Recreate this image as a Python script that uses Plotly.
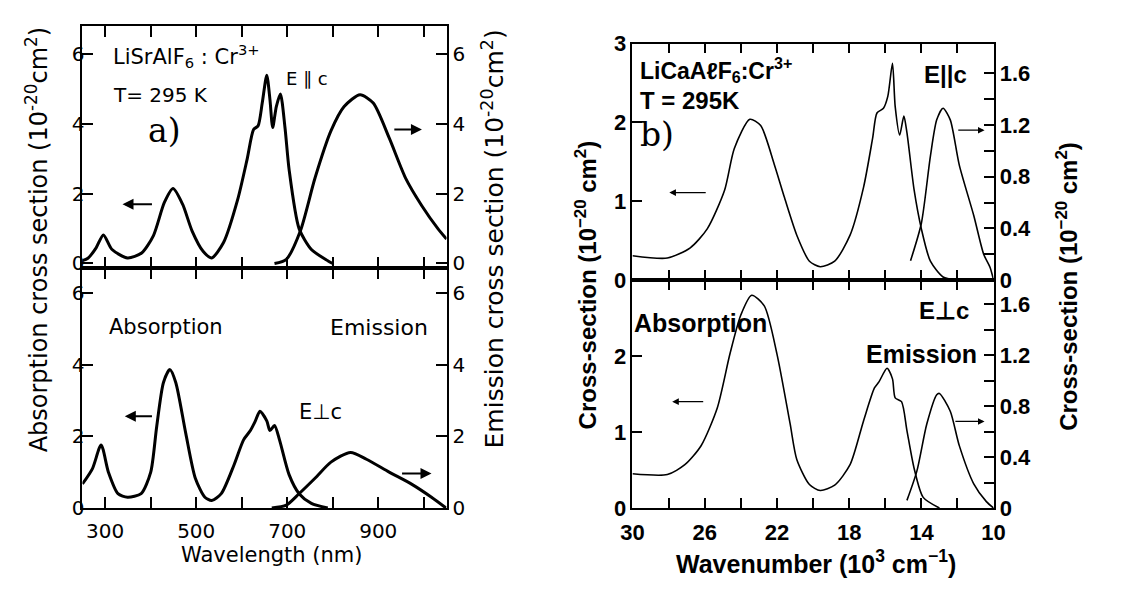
import plotly.graph_objects as go

# ---------------- Panel a: LiSrAlF6:Cr3+ (wavelength, nm) ----------------
a_par_abs_x = [250, 262, 280, 296, 315, 349, 380, 406, 430, 449, 470, 491, 515, 534, 560, 591, 612, 626, 636, 645, 655, 662, 668, 676, 685, 695, 704, 726, 753, 789, 800]
a_par_abs_y = [0.08, 0.15, 0.45, 0.82, 0.4, 0.16, 0.3, 0.8, 1.75, 2.15, 1.7, 0.93, 0.35, 0.16, 0.6, 1.83, 3.0, 3.84, 3.95, 4.6, 5.4, 4.7, 3.9, 4.5, 4.86, 3.9, 2.7, 1.0, 0.4, 0.08, 0.0]
a_par_em_x = [672, 698, 729, 761, 796, 825, 860, 889, 924, 960, 996, 1031, 1050]
a_par_em_y = [0.0, 0.12, 0.94, 2.45, 3.8, 4.5, 4.84, 4.6, 3.6, 2.45, 1.65, 1.0, 0.7]

a_perp_abs_x = [250, 272, 291, 307, 328, 349, 379, 400, 413, 428, 442, 455, 477, 498, 519, 534, 555, 583, 604, 619, 630, 640, 655, 662, 672, 683, 704, 726, 753, 789]
a_perp_abs_y = [0.67, 1.1, 1.76, 1.0, 0.4, 0.3, 0.4, 1.0, 2.26, 3.5, 3.86, 3.5, 2.08, 0.83, 0.3, 0.21, 0.4, 1.2, 1.9, 2.16, 2.43, 2.7, 2.43, 2.16, 2.3, 1.9, 0.93, 0.4, 0.13, 0.0]
a_perp_em_x = [666, 698, 726, 761, 796, 839, 874, 924, 974, 1017, 1049]
a_perp_em_y = [0.0, 0.08, 0.4, 0.83, 1.28, 1.55, 1.36, 1.0, 0.66, 0.3, 0.0]

a_xticks = [300, 400, 500, 600, 700, 800, 900, 1000]
a_xticktext = ["300", "", "500", "", "700", "", "900", ""]
a_yticks = [0, 2, 4, 6]

# ---------------- Panel b: LiCaAlF6:Cr3+ (wavenumber, 10^3 cm^-1) ----------------
b_par_abs_x = [30.0, 28.07, 26.8, 25.86, 24.9, 24.36, 23.5, 22.9, 22.15, 21.6, 20.9, 20.2, 19.6, 18.8, 17.95, 17.2, 16.7, 16.46, 16.1, 15.86, 15.6, 15.45, 15.2, 14.97, 14.8, 14.4, 14.0, 13.5, 12.8, 12.1]
b_par_abs_y = [0.31, 0.28, 0.41, 0.65, 1.14, 1.67, 2.04, 1.96, 1.47, 1.06, 0.57, 0.24, 0.17, 0.24, 0.57, 1.18, 1.8, 2.12, 2.18, 2.33, 2.75, 2.2, 1.84, 2.08, 1.87, 1.14, 0.65, 0.24, 0.04, 0.0]
b_par_em_x = [14.6, 14.0, 13.5, 13.15, 12.8, 12.4, 11.9, 11.1, 10.55, 10.2, 10.0]
b_par_em_y = [0.15, 0.44, 0.96, 1.24, 1.33, 1.24, 0.89, 0.5, 0.2, 0.1, 0.0]

b_perp_abs_x = [30.0, 28.07, 27.1, 26.2, 25.3, 24.6, 24.0, 23.4, 22.7, 22.0, 21.27, 20.9, 20.2, 19.6, 18.8, 17.95, 17.2, 16.6, 16.35, 15.9, 15.6, 15.45, 15.1, 14.8, 14.4, 13.9, 13.0]
b_perp_abs_y = [0.45, 0.44, 0.57, 0.82, 1.32, 2.03, 2.54, 2.8, 2.66, 2.03, 1.11, 0.64, 0.31, 0.23, 0.3, 0.57, 1.15, 1.58, 1.66, 1.84, 1.7, 1.45, 1.4, 1.02, 0.52, 0.14, 0.0]
b_perp_em_x = [14.8, 14.25, 13.7, 13.15, 13.0, 12.4, 11.9, 11.1, 10.4, 10.0]
b_perp_em_y = [0.06, 0.29, 0.66, 0.89, 0.9, 0.76, 0.49, 0.19, 0.05, 0.0]

b_xticks = [30, 28, 26, 24, 22, 20, 18, 16, 14, 12, 10]
b_xticktext = ["30", "", "26", "", "22", "", "18", "", "14", "", "10"]
b_lyticks = [0, 1, 2, 3]
b_ryticks = [0, 0.2, 0.4, 0.6, 0.8, 1.0, 1.2, 1.4, 1.6]
b_ryticktext = ["0", "", "0.4", "", "0.8", "", "1.2", "", "1.6"]

# ---------------- figure ----------------
W, H = 1125, 589
FA = "DejaVu Sans"
FB = "Liberation Sans"
FS = "DejaVu Serif"

fig = go.Figure()

def line(x, y, xa, ya, w):
    fig.add_trace(go.Scatter(x=x, y=y, xaxis=xa, yaxis=ya, mode="lines",
                             line=dict(color="black", width=w, shape="spline", smoothing=0.7),
                             showlegend=False, hoverinfo="skip"))

line(a_par_abs_x, a_par_abs_y, "x", "y", 3)
line(a_par_em_x, a_par_em_y, "x", "y2", 3)
line(a_perp_abs_x, a_perp_abs_y, "x2", "y3", 3)
line(a_perp_em_x, a_perp_em_y, "x2", "y4", 3)
line(b_par_abs_x, b_par_abs_y, "x3", "y5", 1.6)
line(b_par_em_x, b_par_em_y, "x3", "y6", 1.6)
line(b_perp_abs_x, b_perp_abs_y, "x4", "y7", 1.6)
line(b_perp_em_x, b_perp_em_y, "x4", "y8", 1.6)

def px(x0, x1):
    return [x0 / W, x1 / W]

def py(top, bot):
    return [(H - bot) / H, (H - top) / H]

a_dom_x = px(72, 444)
a_top_y = py(15, 267)
a_bot_y = py(267, 518)
b_dom_x = px(634, 1003)
b_top_y = py(33, 280)
b_bot_y = py(280, 518)

a_tick = dict(family=FA, size=20, color="black")
b_tick = dict(family=FB, size=22, color="black", weight="bold")

common = dict(showline=True, linecolor="black", linewidth=2, ticks="inside",
              tickcolor="black", tickwidth=2, ticklen=11, showgrid=False, zeroline=False)
bcommon = {**common, "linewidth": 1.5, "tickwidth": 1.5, "ticklen": 10}

fig.update_layout(
    width=W, height=H, margin=dict(l=0, r=0, t=0, b=0),
    paper_bgcolor="white", plot_bgcolor="white",
    # panel a
    xaxis=dict(domain=a_dom_x, anchor="y", range=[250, 1050], tickvals=a_xticks,
               showticklabels=False, mirror="ticks", **common),
    yaxis=dict(domain=a_top_y, anchor="x", range=[-0.12, 6.8], tickvals=a_yticks,
               tickfont=a_tick, ticklabelstandoff=-8, **common),
    yaxis2=dict(overlaying="y", anchor="x", side="right", range=[-0.12, 6.8],
                tickvals=a_yticks, tickfont=a_tick, **common),
    xaxis2=dict(domain=a_dom_x, anchor="y3", range=[250, 1050], tickvals=a_xticks,
                ticktext=a_xticktext, tickfont=a_tick, mirror="ticks",
                ticklabelstandoff=4, **common),
    yaxis3=dict(domain=a_bot_y, anchor="x2", range=[0, 6.7], tickvals=a_yticks,
                tickfont=a_tick, ticklabelstandoff=-8, **common),
    yaxis4=dict(overlaying="y3", anchor="x2", side="right", range=[0, 6.7],
                tickvals=a_yticks, tickfont=a_tick, **common),
    # panel b
    xaxis3=dict(domain=b_dom_x, anchor="y5", range=[30, 10], tickvals=b_xticks,
                showticklabels=False, mirror="ticks", **bcommon),
    yaxis5=dict(domain=b_top_y, anchor="x3", range=[0, 3], tickvals=b_lyticks,
                tickfont=b_tick, **bcommon),
    yaxis6=dict(overlaying="y5", anchor="x3", side="right", range=[0, 1.83],
                tickvals=b_ryticks, ticktext=b_ryticktext, tickfont=b_tick, **bcommon),
    xaxis4=dict(domain=b_dom_x, anchor="y7", range=[30, 10], tickvals=b_xticks,
                ticktext=b_xticktext, tickfont=b_tick, mirror="ticks",
                ticklabelstandoff=4, **bcommon),
    yaxis7=dict(domain=b_bot_y, anchor="x4", range=[0, 3], tickvals=[0, 1, 2],
                tickfont=b_tick, **bcommon),
    yaxis8=dict(overlaying="y7", anchor="x4", side="right", range=[0, 1.79],
                tickvals=b_ryticks, ticktext=b_ryticktext, tickfont=b_tick, **bcommon),
)

ann = []

def txt(x, y, xr, yr, s, font, size, xanchor="left"):
    f = dict(font)
    f["size"] = size
    ann.append(dict(x=x, y=y, xref=xr, yref=yr, text=s, showarrow=False,
                    xanchor=xanchor, yanchor="middle", font=f))

def arrow(xh, xt, y, xr, yr, w):
    ann.append(dict(x=xh, y=y, ax=xt, ay=y, xref=xr, yref=yr, axref=xr, ayref=yr,
                    text="", showarrow=True, arrowhead=2, arrowsize=1.1, arrowwidth=w,
                    arrowcolor="black"))

fa = dict(family=FA, color="black")
fb = dict(family=FB, color="black", weight="bold")
fs = dict(family=FS, color="black")

# panel a labels
txt(312, 5.94, "x", "y", "LiSrAlF<sub>6</sub> : Cr<sup>3+</sup>", fa, 21)
txt(312, 4.84, "x", "y", "T= 295 K", fa, 20)
txt(390, 3.8, "x", "y", "a)", fs, 33)
txt(692, 5.3, "x", "y", "E ∥ c", fa, 18)
txt(305, 5.04, "x2", "y3", "Absorption", fa, 21)
txt(790, 5.04, "x2", "y3", "Emission", fa, 22)
txt(722, 2.67, "x2", "y3", "E⊥c", fa, 21)
arrow(338, 406, 1.7, "x", "y", 2)
arrow(996, 932, 3.84, "x", "y", 2)
arrow(343, 406, 2.56, "x2", "y3", 2)
arrow(1017, 949, 0.96, "x2", "y3", 2)

# panel b labels
txt(29.7, 2.66, "x3", "y5", "LiCaAℓF<sub>6</sub>:Cr<sup>3+</sup>", fb, 23)
txt(29.7, 2.28, "x3", "y5", "T = 295K", fb, 24)
txt(29.7, 1.85, "x3", "y5", "b)", fs, 33)
txt(13.95, 2.61, "x3", "y5", "E||c", fb, 24)
txt(30.0, 2.43, "x4", "y7", "Absorption", fb, 25)
txt(14.25, 2.6, "x4", "y7", "E⊥c", fb, 24)
txt(17.15, 2.03, "x4", "y7", "Emission", fb, 25)
arrow(27.96, 25.86, 1.11, "x3", "y5", 1.2)
arrow(10.5, 12.04, 1.16, "x3", "y6", 1.2)
arrow(27.8, 26.0, 1.4, "x4", "y7", 1.2)
arrow(10.5, 12.2, 0.68, "x4", "y8", 1.2)

# axis titles
def ptitle(xp, yp, s, font, size, angle=0):
    f = dict(font)
    f["size"] = size
    ann.append(dict(x=xp / W, y=(H - yp) / H, xref="paper", yref="paper", text=s,
                    showarrow=False, textangle=angle, xanchor="center", yanchor="middle",
                    font=f))

ptitle(25, 238, "Absorption cross section (10<sup>-20</sup>cm<sup>2</sup>)", fa, 24, -90)
ptitle(492, 237, "Emission cross section (10<sup>-20</sup>cm<sup>2</sup>)", fa, 25, -90)
ptitle(265, 567, "Wavelength (nm)", fa, 21)
ptitle(586, 285, "Cross-section (10<sup>−20</sup> cm<sup>2</sup>)", fb, 24, -90)
ptitle(1078, 287, "Cross-section (10<sup>−20</sup> cm<sup>2</sup>)", fb, 24, -90)
ptitle(822, 574, "Wavenumber (10<sup>3</sup> cm<sup>−1</sup>)", fb, 25)

fig.update_layout(annotations=ann)
fig.write_html("out.html")
